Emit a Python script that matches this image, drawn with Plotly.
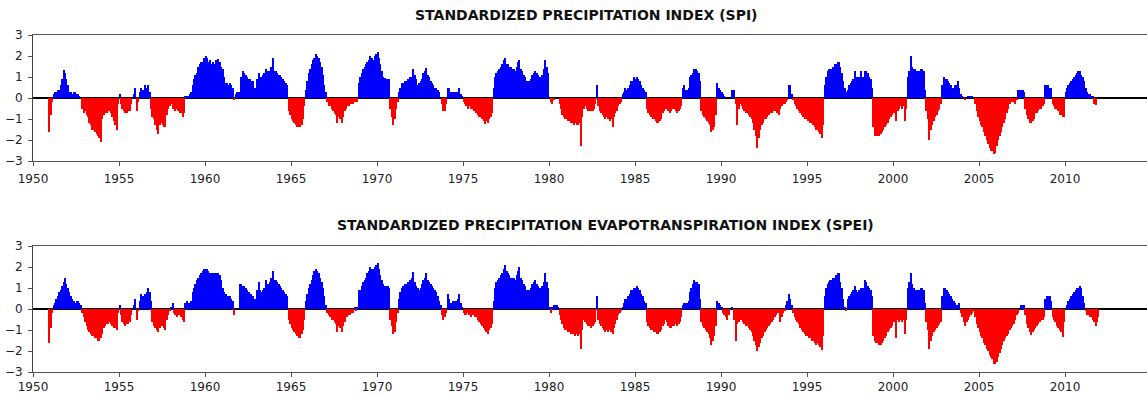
import plotly.graph_objects as go

# ---------------- data (monthly values, Jan..Dec, by decade) ----------------
start_year = 1950
spi_1950s = [
    0, 0, 0, 0, 0, 0, 0, 0, 0, 0, 0, -1.6,
    -0.8, -0.2, 0.2, 0.3, 0.3, 0.4, 0.4, 0.6, 0.9, 1.35, 1.2, 0.9,
    0.6, 0.3, 0.3, 0.2, 0.3, 0.3, 0.2, 0.2, 0.1, 0.0, -0.5, -0.7,
    -0.6, -0.8, -0.9, -1.2, -1.3, -1.5, -1.5, -1.6, -1.7, -1.8, -1.9, -2.1,
    -1.0, -0.8, -0.7, -0.7, -0.6, -0.6, -0.7, -0.9, -1.1, -1.3, -1.5, -0.3,
    0.2, -0.3, -0.5, -0.6, -0.7, -0.7, -0.6, -0.6, -0.3, 0.0, 0.2, 0.5,
    -0.6, -0.2, 0.3, 0.5, 0.4, 0.4, 0.6, 0.5, 0.6, 0.3, -0.5, -0.9,
    -1.0, -1.3, -1.5, -1.7, -1.3, -1.2, -1.3, -1.4, -1.4, -0.8, -0.5, -0.4,
    -0.3, -0.5, -0.5, -0.6, -0.5, -0.6, -0.7, -0.7, -0.9, -0.7, 0.1, 0.1,
    0.1, 0.2, 0.3, 0.6, 0.9, 1.1, 1.2, 1.5, 1.6, 1.7, 1.7, 1.9,
]
spi_1960s = [
    2.0, 1.9, 1.7, 1.8, 1.6, 1.7, 1.6, 1.8, 1.8, 1.85, 1.7, 1.5,
    1.4, 1.0, 0.7, 0.7, 0.6, 0.7, 0.6, 0.5, -0.1, 0.2, 0.3, 0.3,
    0.3, 1.0, 1.3, 1.2, 1.1, 1.0, 0.9, 0.9, 0.8, 0.8, 0.5, 0.5,
    0.9, 1.2, 0.8, 1.0, 1.1, 1.2, 1.4, 1.3, 1.3, 1.2, 1.5, 1.9,
    1.3, 1.3, 1.2, 1.1, 1.1, 1.0, 0.9, 0.8, 0.7, 0.6, -0.6, -0.8,
    -1.0, -1.1, -1.2, -1.3, -1.4, -1.4, -1.4, -1.3, -1.0, -0.4, 0.4, 0.8,
    1.2, 1.4, 1.6, 1.8, 1.9, 2.1, 2.0, 1.9, 1.7, 1.5, 1.1, 0.6,
    0.3, -0.2, -0.4, -0.4, -0.5, -0.6, -0.7, -0.8, -1.2, -0.9, -1.0, -1.2,
    -0.9, -0.6, -0.5, -0.4, -0.4, -0.3, -0.3, -0.3, -0.2, -0.2, -0.2, 0.7,
    1.0, 1.2, 1.4, 1.5, 1.6, 1.7, 1.8, 2.0, 1.9, 1.8, 2.0, 2.1,
]
spi_1970s = [
    2.2, 1.9, 1.6, 1.3, 1.0, 0.95, 0.9, 0.9, 0.9, -0.5, -0.9, -1.3,
    -1.0, -0.5, -0.2, 0.3, 0.5, 0.7, 0.7, 0.8, 0.8, 0.9, 0.9, 1.0,
    1.0, 1.4, 1.1, 0.9, 0.6, 0.7, 0.8, 0.9, 1.2, 1.3, 1.45, 1.1,
    1.0, 0.8, 0.7, 0.6, 0.5, 0.5, 0.4, 0.3, 0.0, -0.3, -0.6, -0.6,
    -0.3, 0.5, 0.5, 0.3, 0.3, 0.3, 0.3, 0.3, 0.3, 0.5, 0.2, 0.1,
    -0.2, -0.3, -0.4, -0.5, -0.4, -0.5, -0.5, -0.6, -0.6, -0.7, -0.8, -0.9,
    -0.9, -1.0, -1.1, -1.25, -1.1, -1.2, -1.0, -0.9, -0.7, 0.5, 1.0, 1.2,
    1.3, 1.4, 1.5, 1.6, 1.8, 1.9, 1.6, 1.6, 1.5, 1.5, 1.4, 1.4,
    1.3, 1.5, 1.7, 1.8, 1.4, 1.3, 1.1, 1.0, 0.8, 0.7, 0.8, 0.9,
    1.1, 1.2, 1.3, 1.2, 1.1, 1.0, 1.0, 1.1, 1.4, 1.8, 1.5, 1.2,
]
spi_1980s = [
    0.0, -0.2, -0.3, -0.1, 0.0, 0.0, 0.0, -0.3, -0.5, -0.8, -0.9, -1.0,
    -1.0, -1.1, -1.1, -1.2, -1.2, -1.3, -1.2, -1.3, -1.3, -1.2, -2.3, -0.9,
    -0.5, -0.4, -0.5, -0.6, -0.6, -0.6, -0.6, -0.5, -0.3, 0.6, -0.4, -0.6,
    -0.7, -0.8, -0.9, -1.0, -0.9, -1.0, -1.1, -1.0, -1.4, -0.9, -0.7, -0.6,
    -0.4, -0.3, -0.2, 0.2, 0.3, 0.5, 0.4, 0.5, 0.6, 0.8, 0.8, 1.0,
    0.9, 1.0, 0.9, 0.8, 0.6, 0.5, 0.4, 0.3, -0.5, -0.7, -0.8, -0.9,
    -1.0, -1.0, -1.1, -1.2, -1.2, -1.1, -1.0, -0.7, -0.6, -0.5, -0.5, -0.6,
    -0.7, -0.6, -0.5, -0.5, -0.6, -0.7, -0.6, -0.5, -0.4, 0.5, 0.6, 0.4,
    0.4, 0.5, 1.0, 1.1, 1.2, 1.4, 1.4, 1.3, 1.2, 0.8, -0.6, -0.8,
    -0.9, -1.0, -1.1, -1.2, -1.3, -1.6, -1.5, -1.4, -0.8, 0.7, 0.5, 0.4,
]
spi_1990s = [
    0.3, 0.2, 0.1, 0.0, 0.0, 0.0, 0.0, 0.4, 0.4, 0.4, -0.3, -1.3,
    -0.5, -0.3, -0.4, -0.5, -0.6, -0.7, -0.7, -0.8, -0.9, -1.0, -1.2, -1.5,
    -1.8, -2.4, -1.9, -1.5, -1.3, -1.2, -1.0, -1.0, -0.9, -0.8, -0.7, -0.7,
    -0.6, -0.6, -0.5, -0.7, -0.8, -0.5, -0.4, -0.3, -0.3, -0.2, -0.1, 0.6,
    0.6, 0.2, -0.1, -0.3, -0.4, -0.5, -0.6, -0.7, -0.8, -0.9, -1.0, -1.0,
    -1.1, -1.1, -1.2, -1.2, -1.3, -1.4, -1.5, -1.5, -1.6, -1.7, -1.9, -1.3,
    0.6, 1.0, 1.3, 1.4, 1.4, 1.4, 1.5, 1.6, 1.6, 1.7, 1.7, 1.5,
    1.2, 0.8, 0.5, 0.3, 0.4, 0.6, 0.7, 0.8, 0.9, 1.3, 1.0, 1.0,
    1.0, 1.3, 0.9, 1.0, 1.3, 1.3, 1.2, 1.0, 0.9, 0.5, -1.4, -1.8,
    -1.8, -1.8, -1.8, -1.7, -1.6, -1.5, -1.4, -1.3, -1.2, -1.0, -0.9, -0.8,
]
spi_2000s = [
    -0.7, -0.6, -1.1, -0.6, -0.5, -0.4, -0.5, -0.4, -1.1, -0.5, 1.0, 1.3,
    2.0, 1.5, 1.4, 1.4, 1.3, 1.3, 1.3, 1.4, 1.4, 1.3, 0.4, -0.6,
    -1.0, -2.0, -1.5, -1.3, -1.1, -0.9, -0.8, -0.6, -0.5, -0.3, 0.6, 1.0,
    0.9, 0.9, 0.8, 0.7, 0.6, 0.5, 0.5, 0.6, 0.6, 0.8, 0.5, 0.2,
    0.1, 0.0, -0.1, 0.0, 0.05, 0.05, 0.1, 0.05, 0.0, -0.3, -0.6, -0.9,
    -1.1, -1.3, -1.4, -1.6, -1.8, -2.0, -2.2, -2.4, -2.5, -2.5, -2.65, -2.6,
    -2.3, -2.0, -1.8, -1.6, -1.4, -1.2, -1.0, -0.7, -0.5, -0.3, 0.0, -0.2,
    -0.2, -0.3, -0.1, 0.4, 0.4, 0.4, 0.4, 0.3, -0.5, -0.8, -1.0, -1.2,
    -1.2, -1.1, -1.0, -0.7, -0.7, -0.6, -0.5, -0.5, -0.4, -0.3, 0.6, 0.6,
    0.6, 0.5, 0.5, -0.3, -0.4, -0.5, -0.5, -0.6, -0.8, -0.8, -0.9, -0.9,
]
spi_2010s = [
    0.3, 0.5, 0.6, 0.7, 0.8, 0.9, 1.0, 1.1, 1.2, 1.3, 1.3, 1.1,
    1.0, 0.8, 0.5, 0.3, 0.2, 0.2, 0.1, 0.1, -0.3, -0.35, 0, 0,
]

spei_1950s = [
    0, 0, 0, 0, 0, 0, 0, 0, 0, 0, 0, -1.6,
    -0.9, -0.2, 0.2, 0.3, 0.5, 0.6, 0.8, 0.9, 1.1, 1.3, 1.5, 1.2,
    1.0, 0.8, 0.6, 0.5, 0.4, 0.3, 0.4, 0.4, 0.3, 0.2, -0.2, -0.4,
    -0.6, -0.8, -1.0, -1.1, -1.2, -1.3, -1.3, -1.4, -1.4, -1.5, -1.5, -1.4,
    -1.2, -0.9, -0.8, -0.7, -0.7, -0.6, -0.7, -0.8, -0.9, -0.9, -1.0, -0.2,
    0.2, -0.3, -0.6, -0.7, -0.8, -0.7, -0.7, -0.6, -0.3, 0.0, 0.2, 0.5,
    -0.5, -0.1, 0.4, 0.7, 0.6, 0.6, 0.7, 0.8, 1.0, 0.8, 0.4, -0.6,
    -0.8, -0.9, -1.0, -1.1, -0.9, -0.8, -0.8, -0.9, -1.0, -0.5, -0.3, -0.1,
    0.1, 0.3, -0.2, -0.3, -0.4, -0.3, -0.3, -0.4, -0.5, -0.6, 0.3, 0.4,
    0.3, 0.3, 0.4, 0.8, 1.0, 1.2, 1.4, 1.5, 1.6, 1.7, 1.8, 1.9,
]
spei_1960s = [
    1.9, 1.9, 1.8, 1.7, 1.7, 1.7, 1.7, 1.7, 1.7, 1.7, 1.6, 1.4,
    1.0, 0.8, 0.7, 0.6, 0.6, 0.6, 0.5, 0.4, -0.3, 0.0, 0.0, 0.0,
    1.2, 1.2, 1.1, 1.1, 1.0, 0.9, 0.8, 0.7, 0.7, 0.6, 0.5, 0.5,
    0.9, 1.3, 0.9, 0.8, 0.9, 1.0, 1.4, 1.2, 1.2, 1.3, 1.5, 1.8,
    1.4, 1.4, 1.3, 1.2, 1.1, 1.0, 0.9, 0.8, 0.7, 0.6, -0.5, -0.7,
    -0.9, -1.0, -1.1, -1.2, -1.3, -1.4, -1.4, -1.2, -1.0, -0.5, 0.4, 0.7,
    1.0, 1.2, 1.4, 1.6, 1.8, 1.9, 1.8, 1.7, 1.5, 1.3, 1.0, 0.6,
    0.2, -0.2, -0.3, -0.4, -0.5, -0.5, -0.6, -0.7, -1.1, -0.8, -0.9, -1.1,
    -0.8, -0.6, -0.4, -0.4, -0.3, -0.3, -0.2, -0.2, 0.1, -0.1, 0.1, 0.9,
    0.9, 1.1, 1.3, 1.4, 1.5, 1.7, 1.8, 2.0, 1.9, 1.9, 2.0, 2.1,
]
spei_1970s = [
    2.2, 1.9, 1.6, 1.4, 1.2, 1.1, 1.1, 1.1, 1.0, -0.5, -0.8, -1.2,
    -1.1, -0.6, -0.2, 0.5, 0.8, 1.0, 1.1, 1.2, 1.2, 1.3, 1.3, 1.4,
    1.5, 1.75, 1.3, 1.1, 1.0, 0.9, 1.0, 1.2, 1.4, 1.5, 1.7, 1.4,
    1.3, 1.2, 1.1, 1.0, 0.9, 0.8, 0.6, 0.4, 0.2, -0.3, -0.5, -0.4,
    -0.2, 0.7, 0.5, 0.3, 0.3, 0.4, 0.4, 0.4, 0.5, 0.7, 0.3, 0.1,
    -0.2, -0.3, -0.3, -0.2, -0.3, -0.4, -0.3, -0.3, -0.4, -0.4, -0.5, -0.6,
    -0.7, -0.8, -0.9, -1.0, -1.1, -1.2, -1.0, -0.9, -0.7, 0.4, 1.0, 1.3,
    1.4, 1.5, 1.6, 1.7, 1.9, 2.1, 1.8, 1.7, 1.6, 1.5, 1.5, 1.5,
    1.4, 1.6, 1.8, 2.0, 1.5, 1.4, 1.2, 1.1, 0.9, 0.8, 0.9, 1.0,
    1.2, 1.3, 1.4, 1.2, 1.1, 1.0, 1.0, 1.1, 1.3, 1.7, 1.3, 1.0,
]
spei_1980s = [
    0.1, -0.2, 0.1, 0.2, 0.2, 0.2, 0.1, -0.3, -0.5, -0.7, -0.9, -1.0,
    -1.0, -1.1, -1.1, -1.2, -1.2, -1.2, -1.3, -1.2, -1.3, -1.2, -1.9, -1.0,
    -0.5, -0.6, -0.7, -0.8, -0.8, -0.9, -0.8, -0.7, -0.6, 0.6, -0.5, -0.7,
    -0.8, -0.9, -1.0, -1.1, -1.0, -1.1, -1.0, -1.1, -1.2, -0.9, -0.7, -0.5,
    -0.3, -0.2, -0.1, 0.1, 0.3, 0.5, 0.5, 0.6, 0.7, 0.9, 0.9, 1.0,
    1.0, 1.1, 1.0, 0.9, 0.7, 0.6, 0.4, 0.3, -0.6, -0.8, -0.9, -1.0,
    -1.0, -1.1, -1.1, -1.2, -1.2, -1.1, -1.0, -0.8, -0.7, -0.5, -0.6, -0.8,
    -0.9, -0.9, -0.8, -0.8, -0.7, -0.8, -0.7, -0.6, -0.4, 0.2, 0.3, 0.3,
    0.3, 0.4, 0.8, 1.0, 1.2, 1.4, 1.3, 1.3, 1.2, 0.5, -0.6, -0.8,
    -0.9, -1.0, -1.1, -1.2, -1.4, -1.7, -1.5, -1.3, -0.8, 0.4, 0.3, 0.2,
]
spei_1990s = [
    0.1, -0.2, -0.3, -0.4, -0.5, -0.3, 0.0, 0.1, 0.0, -0.5, -1.5, -0.7,
    -0.6, -0.5, -0.5, -0.6, -0.7, -0.8, -0.8, -0.9, -1.0, -1.1, -1.3, -1.5,
    -1.7, -2.0, -1.8, -1.6, -1.4, -1.3, -1.1, -1.0, -0.9, -0.8, -0.7, -0.6,
    -0.5, -0.4, -0.3, -0.2, -0.2, -0.6, -0.4, -0.2, -0.1, 0.2, 0.4, 0.7,
    0.5, 0.2, -0.2, -0.4, -0.5, -0.6, -0.7, -0.9, -1.0, -1.1, -1.2, -1.3,
    -1.3, -1.4, -1.4, -1.5, -1.5, -1.6, -1.7, -1.6, -1.7, -1.8, -1.95, -1.3,
    0.6, 1.0, 1.2, 1.3, 1.4, 1.4, 1.5, 1.5, 1.6, 1.7, 1.7, 1.3,
    1.0, 0.5, 0.1, -0.1, 0.5, 0.6, 0.7, 0.8, 0.9, 1.1, 0.9, 0.8,
    0.9, 1.0, 0.9, 1.0, 1.4, 1.3, 1.1, 1.0, 0.9, 0.6, -1.3, -1.5,
    -1.6, -1.6, -1.7, -1.7, -1.6, -1.5, -1.4, -1.3, -1.1, -1.0, -0.9, -0.8,
]
spei_2000s = [
    -0.6, -0.6, -1.4, -0.5, -0.6, -0.5, -0.6, -0.5, -1.2, -0.5, 1.0, 1.3,
    1.7, 1.2, 1.0, 0.9, 0.9, 0.9, 0.9, 1.0, 1.0, 0.9, 0.3, -0.6,
    -1.0, -1.9, -1.5, -1.3, -1.1, -1.0, -0.9, -0.8, -0.7, -0.6, 0.6, 1.0,
    1.0, 0.9, 0.8, 0.7, 0.6, 0.5, 0.4, 0.3, 0.2, 0.1, 0.3, -0.2,
    -0.4, -0.6, -0.8, -0.6, -0.5, -0.4, -0.3, -0.2, -0.1, -0.4, -0.7, -0.9,
    -1.1, -1.3, -1.4, -1.6, -1.7, -1.9, -2.0, -2.2, -2.3, -2.4, -2.6, -2.6,
    -2.5, -2.3, -2.1, -1.9, -1.7, -1.5, -1.4, -1.3, -1.2, -1.0, -0.9, -0.8,
    -0.7, -0.5, -0.3, -0.2, 0.0, 0.2, 0.2, 0.2, -0.3, -0.7, -0.9, -1.1,
    -1.25, -1.1, -1.0, -0.9, -0.8, -0.7, -0.6, -0.5, -0.5, -0.4, 0.5, 0.6,
    0.6, 0.6, 0.4, -0.4, -0.5, -0.6, -0.8, -0.9, -1.0, -1.1, -1.35, -0.6,
]
spei_2010s = [
    0.0, 0.2, 0.4, 0.5, 0.6, 0.7, 0.8, 0.9, 1.0, 1.0, 1.1, 1.0,
    0.6, 0.3, -0.1, -0.3, -0.3, -0.4, -0.4, -0.5, -0.6, -0.8, -0.6, -0.4,
]

tick_years = [1950, 1955, 1960, 1965, 1970, 1975, 1980, 1985, 1990, 1995, 2000, 2005, 2010]
y_ticks = [-3, -2, -1, 0, 1, 2, 3]
title_spi = "STANDARDIZED PRECIPITATION INDEX (SPI)"
title_spei = "STANDARDIZED PRECIPITATION EVAPOTRANSPIRATION INDEX (SPEI)"

spi = spi_1950s + spi_1960s + spi_1970s + spi_1980s + spi_1990s + spi_2000s + spi_2010s
spei = spei_1950s + spei_1960s + spei_1970s + spei_1980s + spei_1990s + spei_2000s + spei_2010s

# decimal-year month centres
t_spi = [start_year + (i + 0.5) / 12 for i in range(len(spi))]
t_spei = [start_year + (i + 0.5) / 12 for i in range(len(spei))]

BLUE = "#0000FF"
RED = "#FF0000"


def colors(vals):
    return [BLUE if v >= 0 else RED for v in vals]


fig = go.Figure()
fig.add_trace(go.Bar(x=t_spi, y=spi, width=1 / 12, marker=dict(color=colors(spi), line=dict(width=0)),
                     xaxis="x", yaxis="y", showlegend=False))
fig.add_trace(go.Bar(x=t_spei, y=spei, width=1 / 12, marker=dict(color=colors(spei), line=dict(width=0)),
                     xaxis="x2", yaxis="y2", showlegend=False))

W, H = 1147, 396
x_dom = [33 / W, 1.0]
xr = [1950, 1950 + (W - 33) / 17.2]

axis_font = dict(family="DejaVu Sans, Arial, sans-serif", size=12, color="#222")
yaxis_font = dict(family="DejaVu Sans, Arial, sans-serif", size=12, color="#222")

common_x = dict(range=xr, tickvals=tick_years, ticks="outside", ticklen=4, tickcolor="#555",
                showline=True, linecolor="#555", linewidth=1, mirror=True, showgrid=False,
                zeroline=False, tickfont=axis_font, automargin=False)
common_y = dict(range=[-3, 3], tickvals=y_ticks, ticks="outside", ticklen=4, tickcolor="#555",
                showline=True, linecolor="#444", linewidth=1, showgrid=False, automargin=False,
                zeroline=True, zerolinecolor="#000", zerolinewidth=1.5, tickfont=yaxis_font,
                ticklabelstandoff=3)

fig.update_layout(
    width=W, height=H,
    margin=dict(l=0, r=0, t=0, b=0, autoexpand=False),
    paper_bgcolor="white", plot_bgcolor="white",
    bargap=0,
    xaxis=dict(domain=x_dom, anchor="y", ticklabelstandoff=3, **common_x),
    yaxis=dict(domain=[1 - 161 / H, 1 - 35 / H], anchor="x", **common_y),
    xaxis2=dict(domain=x_dom, anchor="y2", ticklabelstandoff=0, **common_x),
    yaxis2=dict(domain=[1 - 372 / H, 1 - 246 / H], anchor="x2", **common_y),
    annotations=[
        dict(text="<b>" + title_spi + "</b>", xref="paper", yref="paper", x=586 / W, y=1 - 15 / H,
             xanchor="center", yanchor="middle", showarrow=False,
             font=dict(family="DejaVu Sans, Arial, sans-serif", size=14, color="#111")),
        dict(text="<b>" + title_spei + "</b>", xref="paper", yref="paper", x=605 / W, y=1 - 225 / H,
             xanchor="center", yanchor="middle", showarrow=False,
             font=dict(family="DejaVu Sans, Arial, sans-serif", size=14, color="#111")),
    ],
)

fig.write_html("out.html")
